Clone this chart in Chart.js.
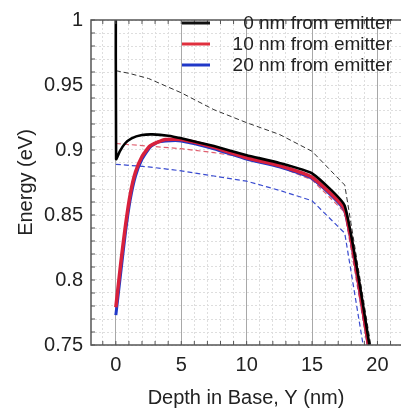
<!DOCTYPE html>
<html>
<head>
<meta charset="utf-8">
<script src="https://cdn.jsdelivr.net/npm/chart.js@4.4.0/dist/chart.umd.min.js"></script>
<style>
  html, body { margin: 0; padding: 0; background: #fff; }
  #wrap { width: 401px; height: 414px; }
</style>
</head>
<body>
<div id="wrap"><canvas id="myChart" width="401" height="414"></canvas></div>
<script>
// depth (nm) and energy (eV)
const depthSolid0 = [0, 0.02, 0.3, 0.7, 1.2, 2, 2.8, 4, 5, 7.5, 10, 12.5, 15, 17.5, 19.5];
const energySolid0 = [1.05, 0.893, 0.899, 0.905, 0.909, 0.9115, 0.912, 0.911, 0.909, 0.903, 0.896, 0.890, 0.882, 0.857, 0.743];

const depthSolid10 = [0, 0.4, 0.75, 1.1, 1.5, 2, 2.6, 3.2, 3.8, 5, 7.5, 10, 12.5, 15, 17.5, 19.5];
const energySolid10 = [0.779, 0.815, 0.843, 0.866, 0.883, 0.895, 0.903, 0.906, 0.908, 0.908, 0.902, 0.894, 0.888, 0.879, 0.854, 0.738];

const depthSolid20 = [0, 0.4, 0.75, 1.1, 1.5, 2, 2.6, 3.2, 3.8, 5, 7.5, 10, 12.5, 15, 17.5, 19.5];
const energySolid20 = [0.773, 0.808, 0.838, 0.862, 0.880, 0.893, 0.902, 0.906, 0.907, 0.907, 0.901, 0.893, 0.887, 0.878, 0.853, 0.737];

const depthDash0 = [0, 1, 2.5, 5, 7.5, 10, 12.5, 15, 17.5, 19.7];
const energyDash0 = [0.961, 0.959, 0.955, 0.944, 0.931, 0.921, 0.912, 0.899, 0.873, 0.737];

const depthDash10 = [0, 2.5, 5, 7.5, 10, 12.5, 15, 17.5, 19.4];
const energyDash10 = [0.905, 0.903, 0.901, 0.898, 0.894, 0.887, 0.877, 0.852, 0.740];

const depthDash20 = [0, 2.5, 5, 7.5, 10, 12.5, 15, 17.5, 19.1];
const energyDash20 = [0.889, 0.887, 0.884, 0.880, 0.876, 0.869, 0.861, 0.836, 0.738];

const legendLabels = ['0 nm from emitter', '10 nm from emitter', '20 nm from emitter'];
const legendColors = ['#111111', '#e0303e', '#2038c8'];

const xTicks = [0, 5, 10, 15, 20];
const yTicks = [0.75, 0.8, 0.85, 0.9, 0.95, 1];

const pts = (xs, ys) => xs.map((x, i) => ({x: x, y: ys[i]}));

const FONT = '"Liberation Sans", Arial, sans-serif';

const frame = {
    id: 'frame',
    afterDraw(chart) {
        const {ctx, chartArea: a} = chart;
        const xm = chart.scales.xMinor, ym = chart.scales.yMinor;
        ctx.save();
        ctx.strokeStyle = '#555';
        ctx.lineWidth = 1.5;
        ctx.beginPath();
        ctx.moveTo(a.right + 2, a.top);
        ctx.lineTo(a.left, a.top);
        ctx.lineTo(a.left, a.bottom);
        ctx.lineTo(a.right + 2, a.bottom);
        ctx.stroke();
        // small inward tick marks
        ctx.lineWidth = 1;
        ctx.beginPath();
        xm.ticks.forEach(t => {
            const px = xm.getPixelForValue(t.value);
            ctx.moveTo(px, a.bottom); ctx.lineTo(px, a.bottom - 4);
            ctx.moveTo(px, a.top); ctx.lineTo(px, a.top + 4);
        });
        ym.ticks.forEach(t => {
            const py = ym.getPixelForValue(t.value);
            ctx.moveTo(a.left, py); ctx.lineTo(a.left + 4, py);
        });
        ctx.stroke();
        // legend
        ctx.font = '19px ' + FONT;
        ctx.textAlign = 'right';
        ctx.textBaseline = 'middle';
        legendLabels.forEach((lab, i) => {
            const y = 23 + i * 21;
            ctx.strokeStyle = legendColors[i];
            ctx.lineWidth = 3;
            ctx.beginPath();
            ctx.moveTo(182, y); ctx.lineTo(210, y);
            ctx.stroke();
            ctx.fillStyle = '#222';
            ctx.fillText(lab, 392, y + 1);
        });
        ctx.restore();
    }
};

const renderChart = () => {
    const ctx = document.getElementById('myChart').getContext('2d');
    new Chart(ctx, {
        type: 'line',
        data: {
            datasets: [
                {label: legendLabels[0], data: pts(depthSolid0, energySolid0), borderColor: '#000', borderWidth: 2.6, tension: 0.15, order: 1},
                {label: legendLabels[1], data: pts(depthSolid10, energySolid10), borderColor: '#d8203c', borderWidth: 3.5, tension: 0.15, order: 2},
                {label: legendLabels[2], data: pts(depthSolid20, energySolid20), borderColor: '#2038c8', borderWidth: 3, tension: 0.15, order: 3},
                {label: 'dash0', data: pts(depthDash0, energyDash0), borderColor: '#333', borderWidth: 1, borderDash: [5, 3], order: 4},
                {label: 'dash10', data: pts(depthDash10, energyDash10), borderColor: '#e06070', borderWidth: 1.2, borderDash: [5, 3], order: 5},
                {label: 'dash20', data: pts(depthDash20, energyDash20), borderColor: '#3a4cd0', borderWidth: 1.2, borderDash: [5, 3], order: 6}
            ]
        },
        options: {
            responsive: false,
            animation: false,
            elements: {point: {radius: 0}, line: {tension: 0, fill: false}},
            layout: {padding: {top: 10, left: 0, right: 0, bottom: 0}},
            plugins: {legend: {display: false}, tooltip: {enabled: false}},
            scales: {
                x: {
                    type: 'linear', position: 'bottom', min: -1.9, max: 21.8,
                    afterFit: s => { s.height = 69; },
                    ticks: {
                        stepSize: 5, includeBounds: false, padding: 8,
                        color: '#222', font: {family: FONT, size: 20},
                        callback: v => xTicks.includes(v) ? String(v) : ''
                    },
                    grid: {color: '#a8a8a8', lineWidth: 1, drawTicks: false, z: 0},
                    border: {display: false},
                    title: {display: true, text: 'Depth in Base, Y (nm)', color: '#222',
                            font: {family: FONT, size: 20}, padding: {top: 4, bottom: 4}}
                },
                y: {
                    type: 'linear', position: 'left', min: 0.75, max: 1,
                    afterFit: s => { s.width = 91; },
                    ticks: {
                        stepSize: 0.05, padding: 8,
                        color: '#222', font: {family: FONT, size: 20},
                        callback: v => {
                            const r = +v.toFixed(2);
                            return yTicks.includes(r) ? String(r) : '';
                        }
                    },
                    grid: {color: '#9a9a9a', lineWidth: 1, drawTicks: false},
                    border: {display: false, dash: [2, 2]},
                    title: {display: true, text: 'Energy (eV)', color: '#222',
                            font: {family: FONT, size: 20}, padding: {top: 14, bottom: 0}}
                },
                xMinor: {
                    type: 'linear', position: 'top', min: -1.9, max: 21.8,
                    afterFit: s => { s.height = 0; },
                    ticks: {display: false, stepSize: 1, includeBounds: false},
                    grid: {color: '#dedede', lineWidth: 1, drawTicks: false},
                    border: {display: false, dash: [2, 2]}
                },
                yMinor: {
                    type: 'linear', position: 'right', min: 0.75, max: 1,
                    afterFit: s => { s.width = 0; },
                    ticks: {display: false, stepSize: 0.01, includeBounds: false},
                    grid: {color: '#dedede', lineWidth: 1, drawTicks: false},
                    border: {display: false, dash: [2, 2]}
                }
            }
        },
        plugins: [frame]
    });
};

renderChart();
</script>
</body>
</html>
